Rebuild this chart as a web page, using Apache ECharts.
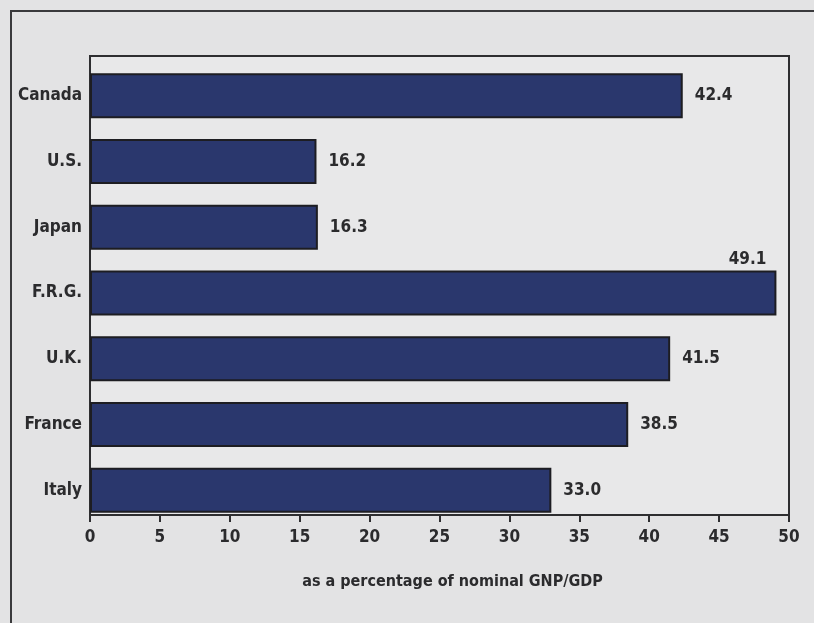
<!DOCTYPE html>
<html>
<head>
<meta charset="utf-8">
<title>Government spending as a percentage of nominal GNP/GDP</title>
<script src="https://cdn.jsdelivr.net/npm/echarts@6/dist/echarts.min.js"></script>
<style>
  html, body { margin: 0; padding: 0; background: #e3e3e4; }
  #chart { width: 814px; height: 623px; }
</style>
</head>
<body>
<div id="chart"></div>
<script>
// Countries, top to bottom
const countries = ['Canada', 'U.S.', 'Japan', 'F.R.G.', 'U.K.', 'France', 'Italy'];
// Share of nominal GNP/GDP (%)
const shares = [42.4, 16.2, 16.3, 49.1, 41.5, 38.5, 33.0];
// Value axis ticks
const axisMin = 0;
const axisMax = 50;
const axisStep = 5;
const axisTitle = 'as a percentage of nominal GNP/GDP';

const FONT = "'Liberation Sans Narrow', 'DejaVu Sans Condensed', 'Roboto Condensed', sans-serif";
const INK = '#2b2b2d';

const chart = echarts.init(document.getElementById('chart'), null, { renderer: 'canvas' });

// The longest bar reaches the frame, so its value sits above the bar end
const barData = shares.map(v => {
  if (v < axisMax - 3) return v;
  return {
    value: v,
    label: { position: 'insideTopRight', offset: [2, -31] }
  };
});

chart.setOption({
  backgroundColor: '#e3e3e4',
  animation: false,
  graphic: [{
    // page frame around the figure
    type: 'rect',
    shape: { x: 11, y: 11, width: 900, height: 700 },
    style: { fill: 'none', stroke: '#3a3a3c', lineWidth: 2 },
    silent: true
  }],
  grid: [
    // framed plot box carrying the value axis
    { left: 90, top: 56, width: 699, height: 459, show: true,
      backgroundColor: '#e8e8e9', borderColor: '#2e2e30', borderWidth: 2 },
    // band layout for the bars
    { left: 90, top: 63, width: 699, height: 460 }
  ],
  xAxis: [
    {
      gridIndex: 0, type: 'value', min: axisMin, max: axisMax, interval: axisStep,
      axisLine: { show: true, lineStyle: { color: '#2e2e30', width: 2 } },
      axisTick: { show: true, length: 7, inside: false, lineStyle: { color: '#2e2e30', width: 2 } },
      splitLine: { show: false },
      axisLabel: { color: INK, fontFamily: FONT, fontWeight: 'bold', fontSize: 17, margin: 14 },
      name: axisTitle, nameLocation: 'middle', nameGap: 59,
      nameTextStyle: { color: INK, fontFamily: FONT, fontWeight: 'bold', fontSize: 16, padding: [0, 0, 0, 26] }
    },
    {
      gridIndex: 1, type: 'value', min: axisMin, max: axisMax, show: false
    }
  ],
  yAxis: [
    { gridIndex: 0, type: 'value', show: false },
    {
      gridIndex: 1, type: 'category', data: countries, inverse: true,
      axisLine: { show: false }, axisTick: { show: false },
      axisLabel: { color: INK, fontFamily: FONT, fontWeight: 'bold', fontSize: 17, margin: 8 }
    }
  ],
  series: [{
    type: 'bar',
    xAxisIndex: 1, yAxisIndex: 1,
    data: barData,
    barWidth: 45,
    itemStyle: { color: '#2a376d', borderColor: '#1d1d22', borderWidth: 2 },
    label: {
      show: true, position: 'right', distance: 12,
      formatter: p => Number(p.value).toFixed(1),
      color: INK, fontFamily: FONT, fontWeight: 'bold', fontSize: 17
    }
  }]
});
</script>
</body>
</html>
